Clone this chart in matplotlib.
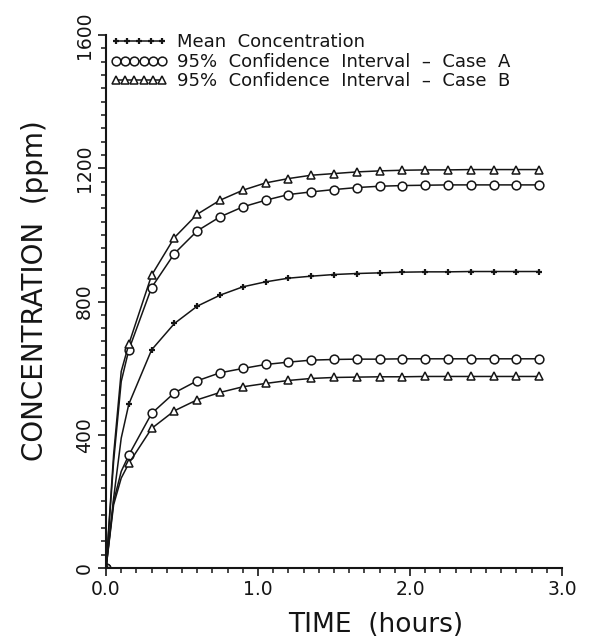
import numpy as np
import matplotlib
matplotlib.use("Agg")
import matplotlib.pyplot as plt
from matplotlib.lines import Line2D
from matplotlib.legend_handler import HandlerLine2D
from matplotlib.ticker import MultipleLocator

# ---- data ----
time_h = [0.00, 0.05, 0.10, 0.15, 0.30, 0.45, 0.60, 0.75, 0.90, 1.05, 1.20,
          1.35, 1.50, 1.65, 1.80, 1.95, 2.10, 2.25, 2.40, 2.55, 2.70, 2.85]
# indices of the sampled points that carry a marker (0.05 and 0.10 are curve-only)
marked = [0] + list(range(3, 22))

mean_conc = [0, 210, 390, 492, 655, 734, 786, 819, 844, 859, 870,
             876, 881, 884, 886, 888, 889, 889, 890, 890, 890, 890]
ci_a_upper = [0, 320, 560, 655, 842, 944, 1012, 1054, 1084, 1104, 1121,
              1129, 1136, 1142, 1146, 1148, 1149, 1150, 1150, 1150, 1150, 1150]
ci_a_lower = [0, 200, 290, 339, 464, 526, 562, 586, 599, 611, 618,
              624, 626, 627, 627, 628, 628, 628, 628, 628, 628, 628]
ci_b_upper = [0, 340, 590, 672, 879, 992, 1062, 1104, 1134, 1156, 1169,
              1179, 1184, 1189, 1192, 1194, 1195, 1195, 1196, 1196, 1196, 1196]
ci_b_lower = [0, 190, 270, 314, 419, 472, 505, 527, 544, 554, 563,
              569, 572, 573, 574, 574, 575, 575, 575, 575, 575, 575]

legend_labels = ["Mean  Concentration",
                 "95%  Confidence  Interval  \u2013  Case  A",
                 "95%  Confidence  Interval  \u2013  Case  B"]
x_ticks = [0.0, 1.0, 2.0, 3.0]
x_tick_labels = ["0.0", "1.0", "2.0", "3.0"]
y_ticks = [0, 400, 800, 1200, 1600]
y_tick_labels = ["0", "400", "800", "1200", "1600"]
x_label = "TIME  (hours)"
y_label = "CONCENTRATION  (ppm)"

# ---- styling ----
plt.rcParams['font.family'] = ['DejaVu Sans']
ink = "#151515"

fig = plt.figure(figsize=(5.90, 6.43), dpi=100)
ax = fig.add_axes([0.1797, 0.1166, 0.7728, 0.8290])

line_kw = dict(color=ink, lw=1.1, markevery=marked)
ax.plot(time_h, mean_conc, marker='+', ms=4.8, mew=1.6, **line_kw)
ax.plot(time_h, ci_a_upper, marker='o', ms=6.3, mfc='white', mec=ink, mew=1.1, **line_kw)
ax.plot(time_h, ci_a_lower, marker='o', ms=6.3, mfc='white', mec=ink, mew=1.1, **line_kw)
ax.plot(time_h, ci_b_upper, marker='^', ms=5.3, mfc='white', mec=ink, mew=1.1, **line_kw)
ax.plot(time_h, ci_b_lower, marker='^', ms=5.3, mfc='white', mec=ink, mew=1.1, **line_kw)

ax.set_xlim(0, 3.0)
ax.set_ylim(0, 1600)

for s in ['top', 'right']:
    ax.spines[s].set_visible(False)
for s in ['left', 'bottom']:
    ax.spines[s].set_linewidth(1.5)
    ax.spines[s].set_color(ink)

ax.set_xticks(x_ticks)
ax.set_xticklabels(x_tick_labels)
ax.set_yticks(y_ticks)
ax.set_yticklabels(y_tick_labels)
ax.xaxis.set_minor_locator(MultipleLocator(0.1))
ax.yaxis.set_minor_locator(MultipleLocator(40))
ax.tick_params(which='major', direction='out', length=6, width=1.2, color=ink,
               labelsize=13.5, pad=2.5, labelcolor=ink)
ax.tick_params(which='minor', direction='out', length=3.5, width=1.1, color=ink)
for lbl in ax.get_yticklabels():
    lbl.set_rotation(90)
    lbl.set_va('center')

ax.set_xlabel(x_label, fontsize=19, color=ink)
ax.set_ylabel(y_label, fontsize=20, color=ink)
ax.xaxis.set_label_coords(0.591, -0.083)
ax.yaxis.set_label_coords(-0.125, 0.52)

# ---- legend ----
h_mean = Line2D([], [], color=ink, lw=1.1, marker='+', ms=4.8, mew=1.6)
h_a = Line2D([], [], color=ink, lw=1.1, marker='o', ms=6.3, mfc='white', mec=ink, mew=1.1)
h_b = Line2D([], [], color=ink, lw=1.1, marker='^', ms=5.3, mfc='white', mec=ink, mew=1.1)
leg = ax.legend([h_mean, h_a, h_b], legend_labels,
                handler_map={h_mean: HandlerLine2D(numpoints=5)},
                numpoints=6, loc='upper left', bbox_to_anchor=(0.009, 1.003),
                frameon=False, borderpad=0, borderaxespad=0, labelspacing=0.08,
                handlelength=3.2, handletextpad=0.5, fontsize=13)
for t in leg.get_texts():
    t.set_color(ink)

fig.savefig("out.png", dpi=100, facecolor='white')
